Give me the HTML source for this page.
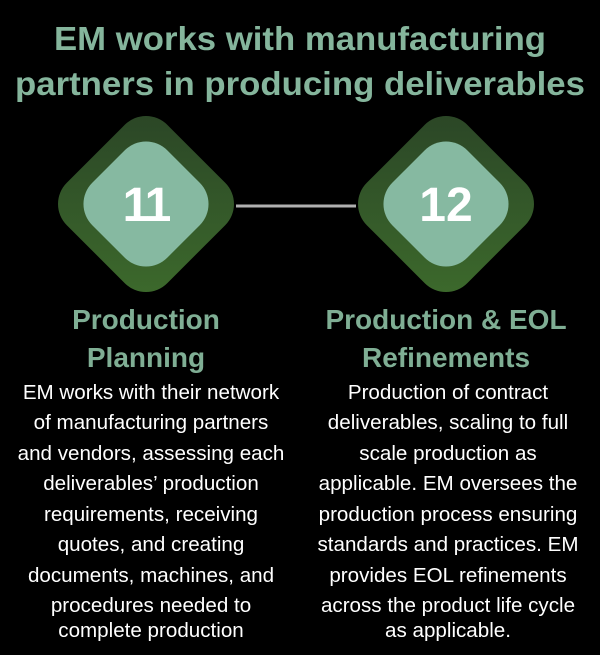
<!DOCTYPE html>
<html><head><style>
html,body{margin:0;padding:0;background:#000;width:600px;height:655px;overflow:hidden}
</style></head><body>
<svg width="600" height="655" viewBox="0 0 600 655" xmlns="http://www.w3.org/2000/svg">
<defs>
<linearGradient id="g" x1="0" y1="0" x2="1" y2="1">
<stop offset="0" stop-color="#2a4426"/><stop offset="1" stop-color="#3d6b2c"/>
</linearGradient>
</defs>
<rect width="600" height="655" fill="#000"/>
<g font-family="Liberation Sans, sans-serif" font-weight="bold" fill="#85b59c" text-anchor="middle">
<text x="300" y="50" font-size="33" textLength="492" lengthAdjust="spacingAndGlyphs">EM works with manufacturing</text>
<text x="300" y="95" font-size="33" textLength="570" lengthAdjust="spacingAndGlyphs">partners in producing deliverables</text>
</g>
<line x1="236" y1="206" x2="356" y2="206" stroke="#b0b0b0" stroke-width="3"/>
<g transform="translate(146,204) rotate(45)">
<rect x="-71" y="-71" width="142" height="142" rx="30" fill="url(#g)"/>
<rect x="-53" y="-53" width="106" height="106" rx="30" fill="#86b9a1"/>
</g>
<g transform="translate(446,204) rotate(45)">
<rect x="-71" y="-71" width="142" height="142" rx="30" fill="url(#g)"/>
<rect x="-53" y="-53" width="106" height="106" rx="30" fill="#86b9a1"/>
</g>
<g font-family="Liberation Sans, sans-serif" font-weight="bold" fill="#fff" text-anchor="middle" font-size="48">
<text x="146" y="221" letter-spacing="-2">11</text>
<text x="446" y="221">12</text>
</g>
<g font-family="Liberation Sans, sans-serif" font-weight="bold" fill="#7fae94" text-anchor="middle" font-size="28">
<text x="146" y="329">Production</text>
<text x="146" y="367">Planning</text>
<text x="446" y="329">Production &amp; EOL</text>
<text x="446" y="367">Refinements</text>
</g>
<g font-family="Liberation Sans, sans-serif" fill="#fff" text-anchor="middle" font-size="20.6">
<text x="151" y="399">EM works with their network</text>
<text x="151" y="429">of manufacturing partners</text>
<text x="151" y="460">and vendors, assessing each</text>
<text x="151" y="490">deliverables’ production</text>
<text x="151" y="521">requirements, receiving</text>
<text x="151" y="551">quotes, and creating</text>
<text x="151" y="582">documents, machines, and</text>
<text x="151" y="612">procedures needed to</text>
<text x="151" y="637">complete production</text>
<text x="448" y="399">Production of contract</text>
<text x="448" y="429">deliverables, scaling to full</text>
<text x="448" y="460">scale production as</text>
<text x="448" y="490">applicable. EM oversees the</text>
<text x="448" y="521">production process ensuring</text>
<text x="448" y="551">standards and practices. EM</text>
<text x="448" y="582">provides EOL refinements</text>
<text x="448" y="612">across the product life cycle</text>
<text x="448" y="637">as applicable.</text>
</g>
</svg>
</body></html>
